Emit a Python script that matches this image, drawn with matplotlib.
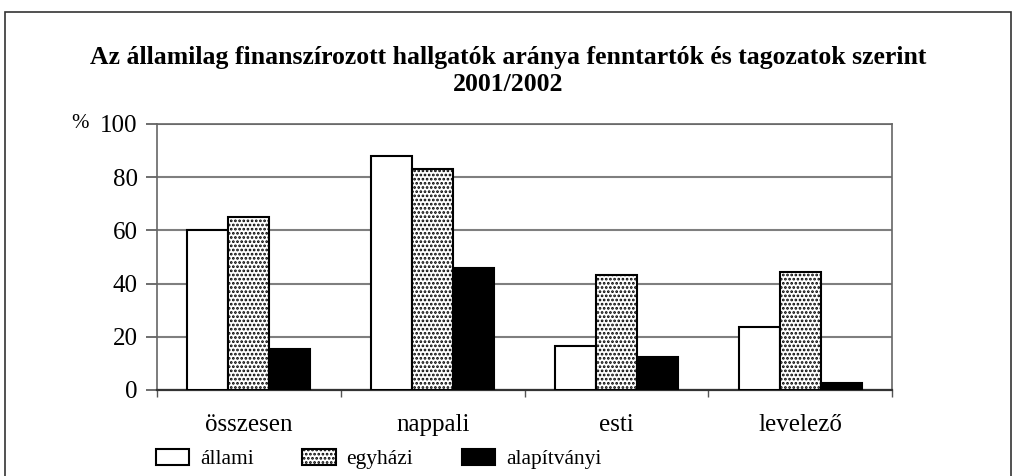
"""
Share of state-funded students by maintainer and study mode, 2001/2002.
Grouped bar chart in the style of a printed statistical report.
"""

import matplotlib
matplotlib.use("Agg")
import matplotlib.pyplot as plt
import matplotlib.patches as mpatches
import numpy as np

# ---------------------------------------------------------------------------
# Data
# ---------------------------------------------------------------------------
CATEGORIES = ["összesen", "nappali", "esti", "levelező"]
SERIES_NAMES = ["állami", "egyházi", "alapítványi"]

ALLAMI = [60, 88, 16.5, 23.7]
EGYHAZI = [65, 83, 43.2, 44.5]
ALAPITVANYI = [15.5, 46, 12.4, 2.5]

Y_TICKS = [0, 20, 40, 60, 80, 100]

TITLE = ("Az államilag finanszírozott hallgatók aránya fenntartók és tagozatok szerint\n"
         "2001/2002")

# ---------------------------------------------------------------------------
# Style
# ---------------------------------------------------------------------------
plt.rcParams["font.family"] = ["Liberation Serif", "DejaVu Serif"]
plt.rcParams["hatch.linewidth"] = 1.3
plt.rcParams["hatch.color"] = "black"

SERIES_STYLE = [
    dict(facecolor="white", hatch=None),
    dict(facecolor="white", hatch="...."),
    dict(facecolor="black", hatch=None),
]

BAR_WIDTH = 0.223


def main() -> None:
    fig = plt.figure(figsize=(10.16, 4.76), dpi=100)
    ax = fig.add_axes([0.1545, 0.1807, 0.7235, 0.5588])

    # outer frame around the whole picture
    fig.patches.append(mpatches.Rectangle(
        (5 / 1016, -0.02), 1006 / 1016, 1 - 12 / 476 + 0.02,
        transform=fig.transFigure, fill=False, edgecolor="#333333",
        linewidth=1.2))

    x = np.arange(len(CATEGORIES))
    values = [ALLAMI, EGYHAZI, ALAPITVANYI]
    handles = []
    for i, (name, vals, style) in enumerate(zip(SERIES_NAMES, values, SERIES_STYLE)):
        offs = (i - 1) * BAR_WIDTH
        bars = ax.bar(x + offs, vals, BAR_WIDTH, color=style["facecolor"],
                      edgecolor="black", linewidth=1.5, hatch=style["hatch"],
                      zorder=3, label=name)
        handles.append(bars)

    # axes and grid
    ax.set_xlim(-0.5, len(CATEGORIES) - 0.5)
    ax.set_ylim(0, 100)
    ax.set_yticks(Y_TICKS)
    ax.set_yticklabels([str(v) for v in Y_TICKS], fontsize=18)
    ax.yaxis.grid(True, color="#7f7f7f", linewidth=1.5, zorder=0)
    ax.tick_params(axis="y", direction="out", length=8, width=1.2,
                   color="#555555", pad=6)

    # category labels between separator ticks
    ax.set_xticks(x)
    ax.set_xticklabels(CATEGORIES, fontsize=18)
    ax.tick_params(axis="x", length=0, pad=17)
    ax.set_xticks(np.arange(-0.5, len(CATEGORIES)), minor=True)
    ax.tick_params(axis="x", which="minor", direction="out", length=5,
                   width=1.0, color="#555555")

    for side in ("left", "right", "top"):
        ax.spines[side].set_color("#666666")
        ax.spines[side].set_linewidth(1.2)
    ax.spines["bottom"].set_color("#333333")
    ax.spines["bottom"].set_linewidth(1.6)

    ax.text(-0.105, 1.0, "%", transform=ax.transAxes, fontsize=15,
            ha="center", va="center")

    fig.suptitle(TITLE, x=0.5, y=0.903, va="top", fontsize=18.5,
                 fontweight="bold", linespacing=1.2)

    fig.legend(handles=handles, labels=SERIES_NAMES, loc="center left",
               bbox_to_anchor=(156 / 1016, 1 - 459 / 476), ncol=3, frameon=False,
               fontsize=15.5, handlelength=1.55, handleheight=0.8,
               columnspacing=2.25, handletextpad=0.5, borderpad=0,
               borderaxespad=0)

    fig.savefig("out.png", dpi=100)


if __name__ == "__main__":
    main()
